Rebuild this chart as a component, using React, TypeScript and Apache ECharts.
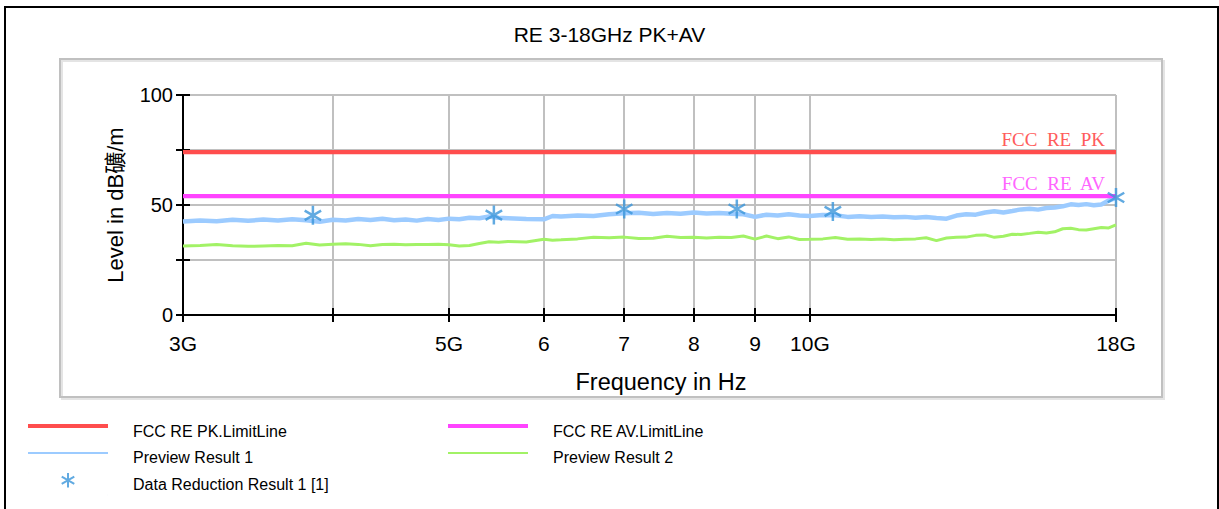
import React, { useEffect, useRef } from 'react';
import * as echarts from 'echarts';

// ---------- data ----------
const previewFreqGHz = [
  3.0, 3.1, 3.2, 3.3, 3.4, 3.5, 3.6, 3.7, 3.8, 3.9, 4.0, 4.1, 4.2, 4.3, 4.4, 4.5, 4.6, 4.7, 4.8, 4.9,
  5.0, 5.1, 5.2, 5.3, 5.4, 5.5, 5.6, 5.8, 6.0, 6.1, 6.2, 6.4, 6.6, 6.8, 7.0, 7.2, 7.4, 7.6, 7.8, 8.0,
  8.2, 8.4, 8.6, 8.8, 9.0, 9.2, 9.4, 9.6, 9.8, 10.0,
  10.25, 10.5, 10.75, 11.0, 11.25, 11.5, 11.75, 12.0, 12.25, 12.5, 12.75, 13.0, 13.25, 13.5, 13.75, 14.0,
  14.25, 14.5, 14.75, 15.0, 15.25, 15.5, 15.75, 16.0, 16.25, 16.5, 16.75, 17.0, 17.25, 17.5, 17.75, 18.0,
];
const preview1Level = [
  42.5, 43.0, 42.6, 43.3, 42.8, 43.4, 43.0, 43.5, 43.1, 42.4, 43.3, 43.0, 43.6, 43.2, 43.7, 43.1, 43.4, 42.9, 43.6, 43.2,
  43.8, 43.5, 44.2, 44.0, 44.8, 44.2, 44.0, 43.6, 43.5, 45.0, 44.8, 45.2, 45.0, 45.8, 46.3, 46.5, 45.9, 46.4, 46.0, 46.6,
  46.1, 46.4, 46.0, 45.8, 44.6, 45.6, 45.2, 45.8, 45.2, 45.0,
  45.5, 45.3, 44.6, 44.9, 44.5, 44.8, 44.4, 44.6, 44.2, 44.5, 44.1, 43.8, 45.2, 45.8, 45.6, 46.6,
  47.2, 46.6, 47.3, 48.0, 48.3, 47.9, 48.6, 48.9, 49.4, 50.3, 50.0, 50.4, 49.9, 50.2, 52.0, 53.2,
];
const preview2Level = [
  31.4, 31.6, 32.0, 31.5, 31.2, 31.4, 31.6, 31.5, 32.6, 31.8, 32.2, 32.4, 32.1, 31.5, 32.0, 32.2, 31.9, 32.1, 32.0, 32.2,
  31.9, 31.4, 31.6, 32.5, 33.3, 33.1, 33.4, 33.2, 34.4, 34.0, 34.2, 34.6, 35.3, 35.1, 35.4, 34.8, 34.9, 35.8, 35.2, 35.3,
  35.0, 35.3, 35.2, 35.9, 34.5, 35.9, 34.7, 35.5, 34.3, 34.4,
  34.6, 35.2, 34.4, 34.5, 34.3, 34.5, 34.2, 34.4, 34.6, 35.1, 33.8, 35.0, 35.3, 35.4, 36.2, 36.4,
  35.3, 35.8, 36.7, 36.6, 37.1, 37.6, 37.3, 37.8, 39.2, 39.4, 38.8, 38.6, 39.2, 39.8, 39.6, 41.0,
];
const reductionFreqGHz = [3.85, 5.45, 7.0, 8.69, 10.45, 18.0];
const reductionLevel = [45.3, 45.4, 48.2, 48.2, 47.1, 53.4];

const limitFreqGHz = [3, 18];
const pkLimitLevel = [74, 74];
const avLimitLevel = [54, 54];

const xTickFreqGHz = [3, 4, 5, 6, 7, 8, 9, 10, 18];
const xTickLabels = ['3G', '', '5G', '6', '7', '8', '9', '10G', '18G'];
const yMin = 0;
const yMax = 100;
const yInterval = 25;
const yLabelValues = [0, 50, 100];

const NAMES = {
  pk: 'FCC RE PK.LimitLine',
  av: 'FCC RE AV.LimitLine',
  p1: 'Preview Result 1',
  p2: 'Preview Result 2',
  dr: 'Data Reduction Result 1 [1]',
};

// ---------- helpers ----------
const lg = (f: number) => Math.log10(f);
const xTickLogs = xTickFreqGHz.map(lg);
const SANS = '"Liberation Sans", Arial, "Noto Sans CJK SC", sans-serif';
const SERIF = '"Liberation Serif", "DejaVu Serif", serif';
const ASTERISK = 'path://M10 0L10 20M1.34 5L18.66 15M1.34 15L18.66 5';
// legend icons drawn in an 80x22 box (corner points pin the box so nothing is rescaled)
const BOX = 'M0 0L0.01 0M80 22L79.99 22';
const ICON_THICK = 'path://' + BOX + 'M0 4H80V8H0Z';
const ICON_THIN = 'path://' + BOX + 'M0 6H80V8H0Z';
const ICON_STAR = 'path://' + BOX + 'M40 0L40 14.5M33.72 3.63L46.28 10.88M33.72 10.88L46.28 3.63';

const C_PK = '#ff4d4d';
const C_AV = '#ff44ff';
const C_P1 = '#9ccbff';
const C_P2 = '#a2f266';
const C_DR = '#3a95d9';

function xLabel(v: number) {
  for (let i = 0; i < xTickLogs.length; i++) {
    if (Math.abs(xTickLogs[i] - v) < 1e-6) return xTickLabels[i];
  }
  return '';
}

export default function App() {
  const ref = useRef<HTMLDivElement>(null);
  useEffect(() => {
    if (!ref.current) return;
    const chart = echarts.init(ref.current, undefined, { renderer: 'svg' });
    const xMin = lg(xTickFreqGHz[0]);
    const xMax = lg(xTickFreqGHz[xTickFreqGHz.length - 1]);
    const tickStyle = { color: '#000', width: 2 };

    const limitSeries = (name: string, level: number[], color: string, labelColor: string, text: string) => ({
      type: 'line',
      name,
      data: limitFreqGHz.map((f, i) => [lg(f), level[i]]),
      symbol: 'none',
      lineStyle: { color, width: 4 },
      itemStyle: { color },
      z: 3,
      markLine: {
        silent: true,
        symbol: ['none', 'none'],
        data: [{ yAxis: level[0] }],
        lineStyle: { color, width: 4, type: 'solid' },
        label: {
          show: true,
          position: 'insideEndTop',
          formatter: text,
          color: labelColor,
          fontFamily: SERIF,
          fontSize: 19,
          distance: [11, 3],
        },
      },
    });

    const legendBase = {
      top: 420,
      orient: 'vertical',
      padding: 0,
      itemWidth: 80,
      itemHeight: 22,
      itemGap: 4,
      selectedMode: false,
      symbolKeepAspect: true,
      textStyle: { fontFamily: SANS, fontSize: 16, color: '#000', padding: [0, 0, 0, 20], lineHeight: 16 },
    };

    chart.setOption({
      animation: false,
      backgroundColor: '#fff',
      title: {
        text: 'RE 3-18GHz PK+AV',
        left: 'center',
        top: 19,
        textStyle: { fontFamily: SANS, fontSize: 21, fontWeight: 'normal', color: '#000' },
      },
      graphic: [
        {
          type: 'rect',
          shape: { x: 5, y: 7, width: 1213, height: 540 },
          style: { fill: 'none', stroke: '#000', lineWidth: 2 },
          silent: true,
        },
        {
          type: 'rect',
          shape: { x: 62, y: 61, width: 1102, height: 338 },
          style: { fill: 'none', stroke: '#e4e4e4', lineWidth: 2 },
          silent: true,
        },
        {
          type: 'rect',
          shape: { x: 60, y: 59, width: 1102, height: 338 },
          style: { fill: 'none', stroke: '#c0c0c0', lineWidth: 2 },
          silent: true,
        },
      ],
      grid: { left: 183, right: 103, top: 95, bottom: 194, outerBoundsMode: 'none', containLabel: false },
      legend: [
        {
          ...legendBase,
          left: 27,
          data: [
            { name: NAMES.pk, icon: ICON_THICK },
            { name: NAMES.p1, icon: ICON_THIN },
            { name: NAMES.dr, icon: ICON_STAR },
          ],
        },
        {
          ...legendBase,
          left: 448,
          data: [
            { name: NAMES.av, icon: ICON_THICK },
            { name: NAMES.p2, icon: ICON_THIN },
          ],
        },
      ],
      xAxis: [
        {
          type: 'value',
          min: xMin,
          max: xMax,
          position: 'bottom',
          axisLine: { show: true, onZero: false, lineStyle: { color: '#000', width: 2 } },
          axisTick: { show: true, customValues: xTickLogs, length: 7, lineStyle: tickStyle },
          axisLabel: {
            customValues: xTickLogs,
            formatter: xLabel,
            margin: 18,
            color: '#000',
            fontSize: 21,
            fontFamily: SANS,
            hideOverlap: false,
          },
          splitLine: { show: true, lineStyle: { color: '#c0c0c0', width: 2 } },
          name: 'Frequency in Hz',
          nameLocation: 'middle',
          nameGap: 55,
          nameMoveOverlap: false,
          nameTextStyle: { fontFamily: SANS, fontSize: 23.5, color: '#000', padding: [0, 0, 0, 23] },
        },
        {
          type: 'value',
          min: xMin,
          max: xMax,
          position: 'bottom',
          axisLine: { show: false, onZero: false },
          axisTick: { show: true, inside: true, customValues: xTickLogs, length: 7, lineStyle: tickStyle },
          axisLabel: { show: false },
          splitLine: { show: false },
        },
      ],
      yAxis: [
        {
          type: 'value',
          min: yMin,
          max: yMax,
          interval: yInterval,
          position: 'left',
          axisLine: { show: true, onZero: false, lineStyle: { color: '#000', width: 2 } },
          axisTick: { show: true, length: 7, lineStyle: tickStyle },
          axisLabel: {
            formatter: (v: number) => (yLabelValues.indexOf(v) >= 0 ? String(v) : ''),
            margin: 10,
            color: '#000',
            fontSize: 20,
            fontFamily: SANS,
          },
          splitLine: { show: true, lineStyle: { color: '#c0c0c0', width: 2 } },
          name: 'Level in dB礦/m',
          nameLocation: 'middle',
          nameGap: 57,
          nameRotate: 90,
          nameMoveOverlap: false,
          nameTextStyle: { fontFamily: SANS, fontSize: 22, color: '#000' },
        },
        {
          type: 'value',
          min: yMin,
          max: yMax,
          interval: yInterval,
          position: 'left',
          axisLine: { show: false, onZero: false },
          axisTick: { show: true, inside: true, length: 7, lineStyle: tickStyle },
          axisLabel: { show: false },
          splitLine: { show: false },
        },
      ],
      series: [
        limitSeries(NAMES.pk, pkLimitLevel, C_PK, '#ff5c5c', 'FCC  RE  PK'),
        limitSeries(NAMES.av, avLimitLevel, C_AV, '#ff66ff', 'FCC  RE  AV'),
        {
          type: 'line',
          name: NAMES.p1,
          data: previewFreqGHz.map((f, i) => [lg(f), preview1Level[i]]),
          symbol: 'none',
          lineStyle: { color: C_P1, width: 4.5 },
          itemStyle: { color: C_P1 },
          z: 2,
        },
        {
          type: 'line',
          name: NAMES.p2,
          data: previewFreqGHz.map((f, i) => [lg(f), preview2Level[i]]),
          symbol: 'none',
          lineStyle: { color: C_P2, width: 3 },
          itemStyle: { color: C_P2 },
          z: 2,
        },
        {
          type: 'scatter',
          name: NAMES.dr,
          data: reductionFreqGHz.map((f, i) => [lg(f), reductionLevel[i]]),
          symbol: ASTERISK,
          symbolSize: 19,
          symbolKeepAspect: true,
          clip: false,
          itemStyle: { color: 'rgba(0,0,0,0)', borderColor: C_DR, borderWidth: 2.5 },
          z: 5,
        },
      ],
    });
    return () => chart.dispose();
  }, []);

  return (
    <div
      ref={ref}
      style={{ position: 'fixed', left: 0, top: 0, width: 1219, height: 509, background: '#fff' }}
    />
  );
}
